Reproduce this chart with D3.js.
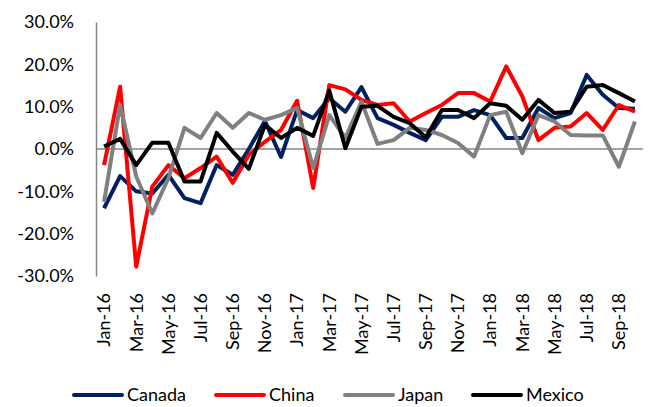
<!DOCTYPE html>
<html>
<head>
<meta charset="utf-8">
<script src="https://cdn.jsdelivr.net/npm/d3@7"></script>
<style>
  body { margin: 0; background: #fff; }
  svg { font-family: Lato, "Liberation Sans", sans-serif; }
</style>
</head>
<body>
<svg width="655" height="407"></svg>
<script>
'use strict';

// months Jan-16 .. Oct-18
var months = ['Jan-16','Feb-16','Mar-16','Apr-16','May-16','Jun-16','Jul-16','Aug-16','Sep-16','Oct-16','Nov-16','Dec-16',
              'Jan-17','Feb-17','Mar-17','Apr-17','May-17','Jun-17','Jul-17','Aug-17','Sep-17','Oct-17','Nov-17','Dec-17',
              'Jan-18','Feb-18','Mar-18','Apr-18','May-18','Jun-18','Jul-18','Aug-18','Sep-18','Oct-18'];

// y/y growth, percent
var canada = [-14.0, -6.4, -10.0, -10.5, -6.1, -11.6, -12.8, -3.8, -6.1, 0.0, 6.6, -1.9,
              9.2, 7.3, 12.0, 8.8, 14.6, 7.3, 5.7, 3.8, 2.1, 7.6, 7.6, 9.2,
              8.0, 2.6, 2.6, 9.7, 7.3, 8.5, 17.5, 12.8, 9.7, 9.5];
var china  = [-3.8, 14.7, -27.8, -8.9, -3.8, -6.9, -4.5, -1.8, -8.0, -1.4, 1.7, 4.5,
              11.4, -9.2, 15.1, 14.1, 11.6, 10.4, 10.8, 6.5, 8.5, 10.4, 13.2, 13.2,
              11.2, 19.5, 12.4, 2.1, 5.0, 5.3, 8.5, 4.5, 10.4, 8.8];
var japan  = [-12.5, 10.4, -6.5, -15.2, -6.9, 5.0, 2.6, 8.5, 5.0, 8.5, 6.9, 8.0,
              9.7, -4.5, 8.0, 2.6, 11.2, 1.2, 2.1, 5.0, 4.5, 3.3, 1.4, -1.8,
              8.0, 8.8, -1.0, 8.0, 6.5, 3.3, 3.2, 3.2, -4.2, 6.5];
var mexico = [0.6, 2.4, -3.8, 1.5, 1.5, -7.7, -7.7, 3.8, -0.6, -4.7, 5.7, 2.6,
              5.0, 3.1, 13.8, 0.2, 10.0, 10.2, 7.6, 6.1, 2.8, 9.2, 9.2, 7.3,
              10.8, 10.2, 6.9, 11.6, 8.5, 8.8, 14.7, 15.1, 13.2, 11.2];

var yTicks = [-30, -20, -10, 0, 10, 20, 30];

var series = [
  {name: 'Canada', values: canada, color: '#002060'},
  {name: 'China',  values: china,  color: '#ff0000'},
  {name: 'Japan',  values: japan,  color: '#808080'},
  {name: 'Mexico', values: mexico, color: '#000000'}
];

var svg = d3.select('svg');
var plotLeft = 96, plotRight = 643, plotTop = 22, plotBottom = 276;
var fontSize = 18;

var x = d3.scaleBand()
          .domain(months)
          .range([plotLeft, plotRight]);

var y = d3.scaleLinear()
          .domain([-30, 30])
          .range([plotBottom, plotTop]);

var xc = function(m){ return x(m) + x.bandwidth() / 2; };

// y axis
var yAxis = d3.axisLeft(y)
              .tickValues(yTicks)
              .tickSize(0)
              .tickPadding(22)
              .tickFormat(function(d){ return d.toFixed(1) + '%'; });

var yg = svg.append('g')
        .attr('transform', 'translate(' + plotLeft + ',0)')
        .call(yAxis);
yg.select('.domain').attr('stroke', '#868686').attr('stroke-width', 1.5);
yg.selectAll('text').attr('font-size', fontSize).attr('fill', '#000')
  .attr('font-family', 'Lato, sans-serif');

// zero line
svg.append('line')
   .attr('x1', plotLeft).attr('x2', plotRight)
   .attr('y1', y(0)).attr('y2', y(0))
   .attr('stroke', '#868686').attr('stroke-width', 1.5);

// x labels, every other month
var xAxis = d3.axisBottom(x)
              .tickValues(months.filter(function(d, i){ return i % 2 === 0; }))
              .tickSize(0);

var xg = svg.append('g')
        .attr('transform', 'translate(0,' + 289 + ')')
        .call(xAxis);
xg.select('.domain').remove();
xg.selectAll('text')
  .attr('font-size', fontSize).attr('fill', '#000')
  .attr('font-family', 'Lato, sans-serif')
  .attr('transform', 'rotate(-90)')
  .attr('text-anchor', 'end')
  .attr('x', -4).attr('y', 0)
  .attr('dy', '0.35em');

// lines
var line = d3.line()
             .x(function(d, i){ return xc(months[i]); })
             .y(function(d){ return y(d); });

svg.selectAll('path.series')
   .data(series)
   .enter().append('path')
     .attr('class', 'series')
     .attr('fill', 'none')
     .attr('stroke', function(d){ return d.color; })
     .attr('stroke-width', 4)
     .attr('stroke-linejoin', 'round')
     .attr('d', function(d){ return line(d.values); });

// legend
var legendX = [72, 214, 343, 471];
var lg = svg.selectAll('g.legend')
   .data(series)
   .enter().append('g')
     .attr('class', 'legend')
     .attr('transform', function(d, i){ return 'translate(' + legendX[i] + ',395)'; });

lg.append('line')
  .attr('x1', 2).attr('x2', 50)
  .attr('stroke', function(d){ return d.color; })
  .attr('stroke-width', 4)
  .attr('stroke-linecap', 'round');

lg.append('text')
  .attr('x', 55).attr('dy', '0.35em')
  .attr('font-size', fontSize)
  .text(function(d){ return d.name; });
</script>
</body>
</html>
